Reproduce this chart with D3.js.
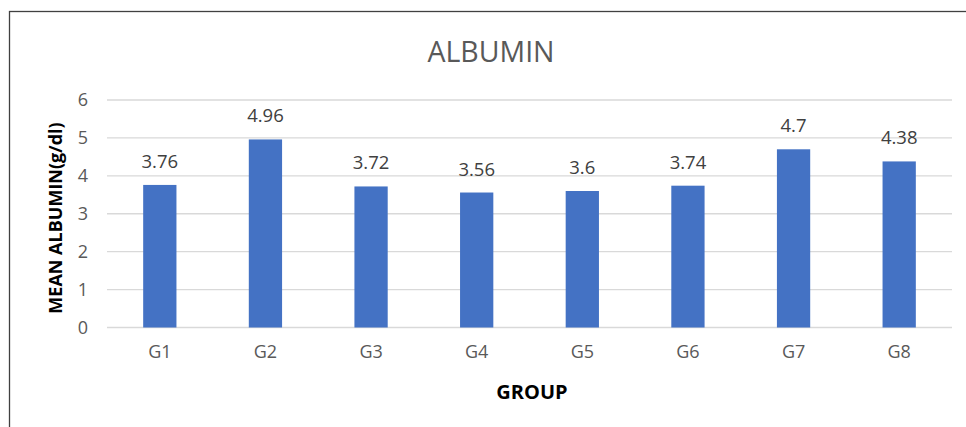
<!DOCTYPE html>
<html>
<head>
<meta charset="utf-8">
<script src="https://cdn.jsdelivr.net/npm/d3@7"></script>
<style>
  html, body { margin: 0; padding: 0; background: #fff; }
  svg { display: block; font-family: "Open Sans", "Noto Sans", sans-serif; }
</style>
</head>
<body>
<svg id="chart" width="966" height="427"></svg>
<script>
// Mean serum albumin per group
const groups = ["G1", "G2", "G3", "G4", "G5", "G6", "G7", "G8"];
const albumin = [3.76, 4.96, 3.72, 3.56, 3.6, 3.74, 4.7, 4.38];
const yTicks = [0, 1, 2, 3, 4, 5, 6];

const svg = d3.select("#chart");
const W = 966, H = 427;
const plot = { left: 107, right: 952, top: 100, bottom: 327.5 };

// chart frame
svg.append("rect")
  .attr("x", 9.5).attr("y", 11.5)
  .attr("width", W + 10).attr("height", H + 10)
  .attr("fill", "#fff")
  .attr("stroke", "#404040").attr("stroke-width", 1.3);

const x = d3.scaleBand()
  .domain(groups)
  .range([plot.left, plot.right])
  .paddingInner(0.685)
  .paddingOuter(0.3425);

const y = d3.scaleLinear()
  .domain([0, 6])
  .range([plot.bottom, plot.top]);

// horizontal gridlines
svg.append("g")
  .selectAll("line")
  .data(yTicks)
  .join("line")
  .attr("x1", plot.left).attr("x2", plot.right)
  .attr("y1", d => y(d)).attr("y2", d => y(d))
  .attr("stroke", "#d9d9d9").attr("stroke-width", 1.3);

// y tick labels
const yAxis = d3.axisLeft(y).tickValues(yTicks).tickFormat(d3.format("d")).tickSize(0).tickPadding(0);
const gy = svg.append("g")
  .attr("transform", `translate(${plot.left - 19},0)`)
  .call(yAxis);
gy.select(".domain").remove();
gy.selectAll("text")
  .attr("fill", "#595959")
  .style("font-size", "18px")
  .style("font-family", "'Open Sans', sans-serif");

// bars
svg.append("g")
  .selectAll("rect")
  .data(groups)
  .join("rect")
  .attr("x", d => x(d))
  .attr("width", x.bandwidth())
  .attr("y", (d, i) => y(albumin[i]))
  .attr("height", (d, i) => y(0) - y(albumin[i]))
  .attr("fill", "#4472C4");

// value labels
svg.append("g")
  .selectAll("text")
  .data(groups)
  .join("text")
  .attr("x", d => x(d) + x.bandwidth() / 2)
  .attr("y", (d, i) => y(albumin[i]) - 17)
  .attr("text-anchor", "middle")
  .attr("fill", "#404040")
  .style("font-size", "18.5px")
  .text((d, i) => albumin[i]);

// x tick labels
const xAxis = d3.axisBottom(x).tickSize(0).tickPadding(0);
const gx = svg.append("g")
  .attr("transform", `translate(0,${plot.bottom + 18})`)
  .call(xAxis);
gx.select(".domain").remove();
gx.selectAll("text")
  .attr("fill", "#595959")
  .style("font-size", "18px")
  .style("font-family", "'Open Sans', sans-serif");

// title
svg.append("text")
  .attr("x", 491).attr("y", 62)
  .attr("text-anchor", "middle")
  .attr("fill", "#595959")
  .style("font-size", "28.5px")
  .text("ALBUMIN");

// axis titles
svg.append("text")
  .attr("x", 532).attr("y", 399)
  .attr("text-anchor", "middle")
  .attr("fill", "#000")
  .style("font-size", "20px")
  .style("font-weight", "bold")
  .text("GROUP");

svg.append("text")
  .attr("transform", "translate(62,218) rotate(-90)")
  .attr("text-anchor", "middle")
  .attr("fill", "#000")
  .style("font-size", "18px")
  .style("font-weight", "bold")
  .text("MEAN ALBUMIN(g/dl)");
</script>
</body>
</html>
